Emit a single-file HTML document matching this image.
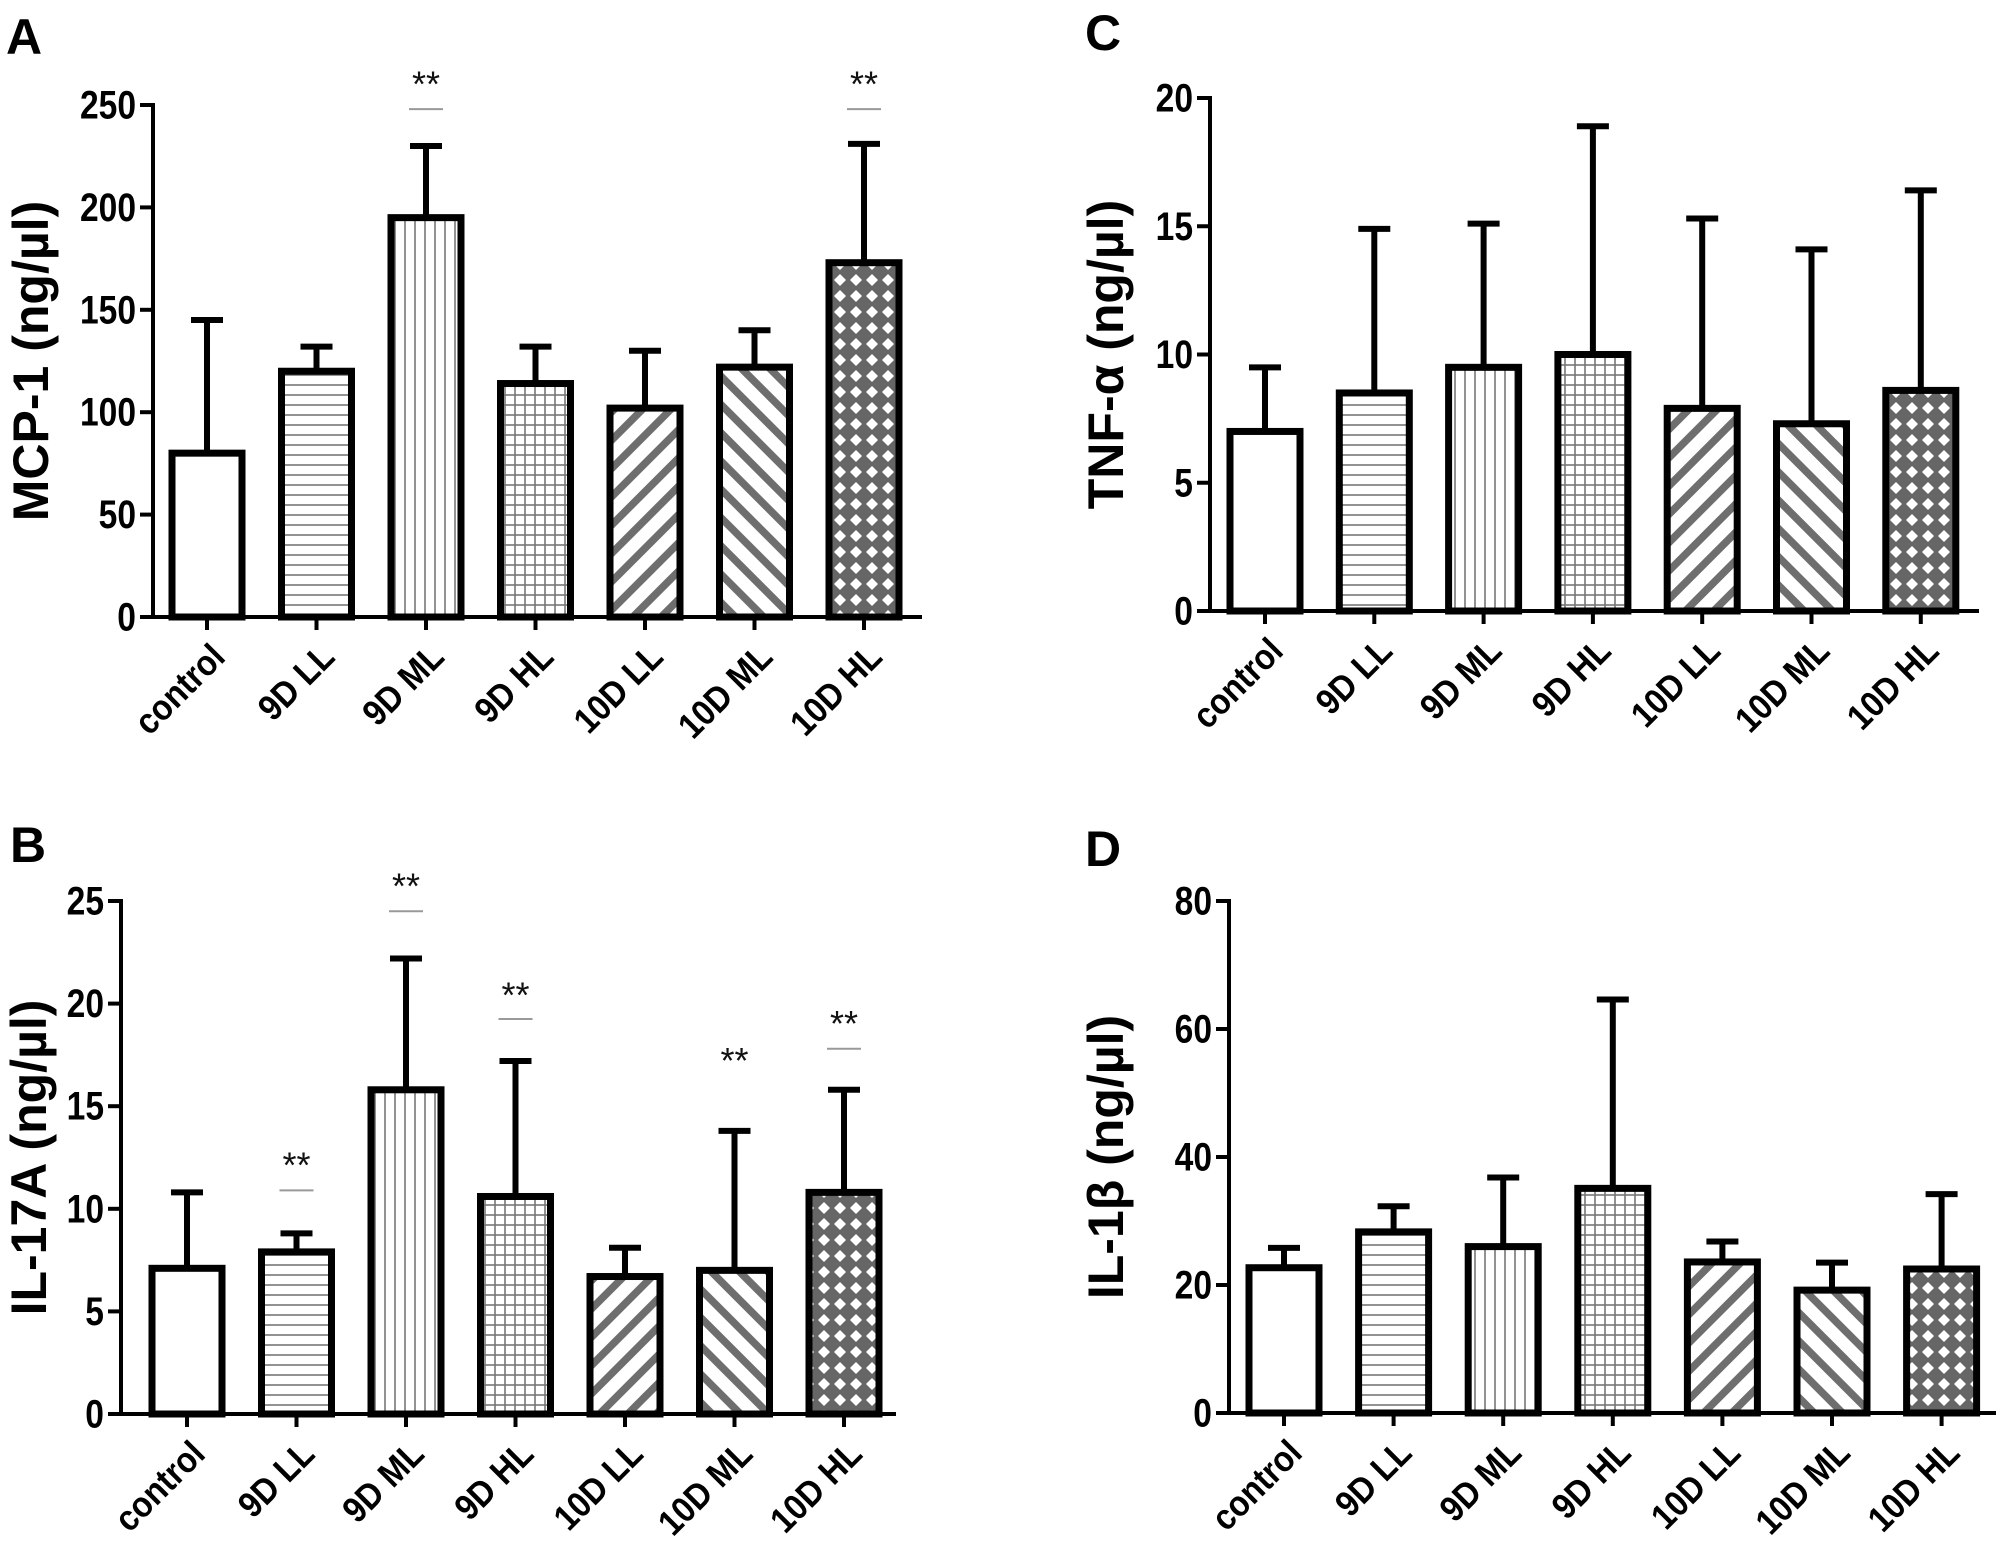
<!DOCTYPE html>
<html><head><meta charset="utf-8"><style>
html,body{margin:0;padding:0;background:#fff;}
svg{display:block;}
text{font-family:"Liberation Sans",Arial,sans-serif;}
</style></head><body>
<svg id="fig" width="2008" height="1557" viewBox="0 0 2008 1557" xmlns="http://www.w3.org/2000/svg">
<defs>
<pattern id="p-h" patternUnits="userSpaceOnUse" width="10" height="10"><rect width="10" height="10" fill="#fff"/><line x1="0" y1="5" x2="10" y2="5" stroke="#777" stroke-width="1.6"/></pattern>
<pattern id="p-v" patternUnits="userSpaceOnUse" width="10" height="10"><rect width="10" height="10" fill="#fff"/><line x1="5" y1="0" x2="5" y2="10" stroke="#777" stroke-width="1.6"/></pattern>
<pattern id="p-g" patternUnits="userSpaceOnUse" width="10" height="10"><rect width="10" height="10" fill="#fff"/><line x1="0" y1="5" x2="10" y2="5" stroke="#777" stroke-width="1.6"/><line x1="5" y1="0" x2="5" y2="10" stroke="#777" stroke-width="1.6"/></pattern>
<pattern id="p-d1" patternUnits="userSpaceOnUse" width="20" height="20" patternTransform="rotate(45)"><rect width="20" height="20" fill="#fff"/><rect x="0" y="0" width="7.5" height="20" fill="#6e6e6e"/></pattern>
<pattern id="p-d2" patternUnits="userSpaceOnUse" width="20" height="20" patternTransform="rotate(-45)"><rect width="20" height="20" fill="#fff"/><rect x="0" y="0" width="7.5" height="20" fill="#6e6e6e"/></pattern>
<pattern id="p-x" patternUnits="userSpaceOnUse" width="16" height="16"><rect width="16" height="16" fill="#666"/><path d="M8 2 L14 8 L8 14 L2 8 Z" fill="#fff"/></pattern>
</defs>
</svg>
<script>
// ---------- data ----------
const categories = ['control','9D LL','9D ML','9D HL','10D LL','10D ML','10D HL'];

const mcp1Values = [80,120,195,114,102,122,173];
const mcp1Errors = [145,132,230,132,130,140,231];
const mcp1Ticks = [0,50,100,150,200,250];
const mcp1Stars = [null,null,261,null,null,null,261];
const mcp1StarLines = [null,null,248,null,null,null,248];

const il17Values = [7.1,7.9,15.8,10.6,6.7,7.0,10.8];
const il17Errors = [10.8,8.8,22.2,17.2,8.1,13.8,15.8];
const il17Ticks = [0,5,10,15,20,25];
const il17Stars = [null,12.2,25.8,20.5,null,17.3,19.1];
const il17StarLines = [null,10.9,24.5,19.25,null,null,17.8];

const tnfValues = [7.0,8.5,9.5,10.0,7.9,7.3,8.6];
const tnfErrors = [9.5,14.9,15.1,18.9,15.3,14.1,16.4];
const tnfTicks = [0,5,10,15,20];

const il1bValues = [22.7,28.3,26.0,35.1,23.6,19.2,22.5];
const il1bErrors = [25.8,32.3,36.8,64.6,26.8,23.5,34.2];
const il1bTicks = [0,20,40,60,80];

const fills = ['#fff','url(#p-h)','url(#p-v)','url(#p-g)','url(#p-d1)','url(#p-d2)','url(#p-x)'];

// ---------- drawing ----------
const NS = 'http://www.w3.org/2000/svg';
const svg = document.getElementById('fig');
function mk(tag, attrs, parent){
  const e = document.createElementNS(NS, tag);
  for (const k in attrs) e.setAttribute(k, attrs[k]);
  (parent||svg).appendChild(e);
  return e;
}

function drawPanel(cfg){
  const g = mk('g', {});
  
  
  const yScale = v => cfg.y0 - (v / cfg.max) * (cfg.y0 - cfg.yTop);
  const xScale = i => cfg.x1 + i * cfg.step;

  const letter = mk('text', {x: cfg.lx, y: cfg.ly, 'font-size': 50, 'font-weight': 'bold', fill: '#000'}, g);
  letter.textContent = cfg.letter;
  
  

  const cy = (cfg.yTop + cfg.y0) / 2;
  const t = mk('text', {x: cfg.tx, y: cy, 'font-size': 50, 'font-weight': 'bold', 'text-anchor': 'middle', 'dominant-baseline': 'central', transform: 'rotate(-90 ' + cfg.tx + ' ' + cy + ')'}, g);
  t.textContent = cfg.title;
  
  

  cfg.values.forEach((v, i) => {
    const cx = xScale(i), yv = yScale(v), ye = yScale(cfg.errors[i]);
    const el = mk('line', {x1: cx, y1: yv, x2: cx, y2: ye, stroke: '#000', 'stroke-width': 6}, g);
    
    
    const cap = mk('line', {x1: cx - 16, y1: ye, x2: cx + 16, y2: ye, stroke: '#000', 'stroke-width': 6}, g);
    
    
    const r = mk('rect', {x: cx - 35, y: yv, width: 70, height: cfg.y0 - yv, fill: fills[i], stroke: '#000', 'stroke-width': 7}, g);
    
    
  });

  const ya = mk('line', {x1: cfg.ax, y1: cfg.yTop - 2, x2: cfg.ax, y2: cfg.y0, stroke: '#000', 'stroke-width': 4}, g);
  
  
  cfg.ticks.forEach(tv => {
    const y = yScale(tv);
    const tk = mk('line', {x1: cfg.ax - 13, y1: y, x2: cfg.ax, y2: y, stroke: '#000', 'stroke-width': 4}, g);
    
    
    const lb = mk('text', {x: 0, y: 0, 'font-size': 40, 'font-weight': 'bold', 'text-anchor': 'end', 'dominant-baseline': 'central', transform: 'translate(' + (cfg.ax - 17) + ',' + y + ') scale(0.84,1)'}, g);
    lb.textContent = tv;
    
    
  });

  const xa = mk('line', {x1: cfg.ax - 13, y1: cfg.y0, x2: cfg.xEnd, y2: cfg.y0, stroke: '#000', 'stroke-width': 4}, g);
  
  
  categories.forEach((c, i) => {
    const cx = xScale(i);
    const tk = mk('line', {x1: cx, y1: cfg.y0, x2: cx, y2: cfg.y0 + 13, stroke: '#000', 'stroke-width': 4}, g);
    
    
    const lb = mk('text', {x: 0, y: 0, 'font-size': 36, 'font-weight': 'bold', 'text-anchor': 'end', transform: 'translate(' + (cx + 20) + ',' + (cfg.y0 + 42) + ') rotate(-45) scale(0.9,1)'}, g);
    lb.textContent = c;
    
    
  });

  if (cfg.stars) {
    cfg.stars.forEach((s, i) => {
      if (s === null) return;
      const cx = xScale(i);
      const st = mk('text', {x: cx, y: yScale(s) + 14, 'font-size': 36, 'text-anchor': 'middle', fill: '#111'}, g);
      st.textContent = '**';
      
      
      const ln = cfg.starLines[i];
      if (ln !== null) {
        const l = mk('line', {x1: cx - 17, y1: yScale(ln), x2: cx + 17, y2: yScale(ln), stroke: '#999', 'stroke-width': 2}, g);
        
        
      }
    });
  }
}

drawPanel({id:'a', letter:'A', lx:6, ly:54, title:'MCP-1 (ng/µl)', tx:31, ax:153, yTop:105, y0:617, xEnd:922, max:250, x1:207, step:109.5,
  values:mcp1Values, errors:mcp1Errors, ticks:mcp1Ticks, stars:mcp1Stars, starLines:mcp1StarLines});
drawPanel({id:'b', letter:'B', lx:10, ly:862, title:'IL-17A (ng/µl)', tx:29, ax:121, yTop:901, y0:1414, xEnd:896, max:25, x1:187, step:109.5,
  values:il17Values, errors:il17Errors, ticks:il17Ticks, stars:il17Stars, starLines:il17StarLines});
drawPanel({id:'c', letter:'C', lx:1085, ly:50, title:'TNF-α (ng/µl)', tx:1106, ax:1210, yTop:98, y0:611, xEnd:1979, max:20, x1:1265, step:109.3,
  values:tnfValues, errors:tnfErrors, ticks:tnfTicks});
drawPanel({id:'d', letter:'D', lx:1085, ly:866, title:'IL-1β (ng/µl)', tx:1106, ax:1229, yTop:901, y0:1413, xEnd:1996, max:80, x1:1284, step:109.6,
  values:il1bValues, errors:il1bErrors, ticks:il1bTicks});
</script>
</body></html>
